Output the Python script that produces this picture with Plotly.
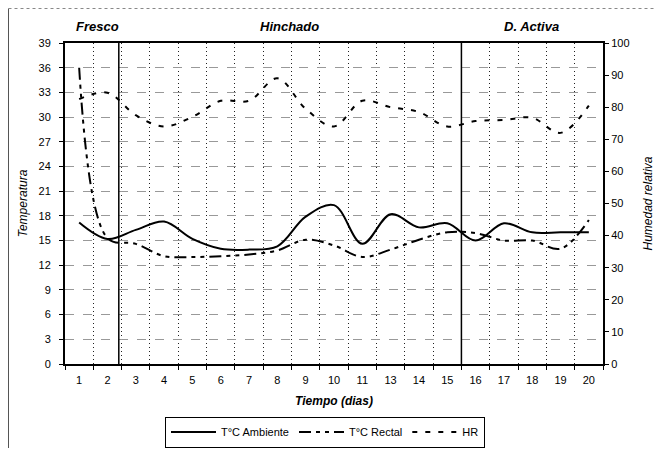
import plotly.graph_objects as go

dias = ["1", "2", "3", "4", "5", "6", "7", "8", "9", "10", "11",
        "13", "14", "15", "16", "17", "18", "19", "20"]
t_ambiente = [17.2, 15.2, 16.3, 17.3, 15.2, 14.0, 13.9, 14.3, 17.9, 19.3, 14.6,
              18.2, 16.6, 17.1, 15.0, 17.1, 16.0, 16.0, 16.0]
t_rectal = [36.0, 15.3, 14.6, 13.1, 13.0, 13.1, 13.3, 13.8, 15.1, 14.4, 13.0,
            13.9, 15.1, 16.0, 15.9, 15.0, 15.0, 14.0, 17.5]
hr = [82.5, 84.5, 77.5, 74.0, 77.0, 82.0, 82.0, 89.0, 79.5, 74.0, 82.0,
      80.0, 78.5, 74.0, 75.7, 76.0, 76.7, 72.0, 80.5]

left_ticks = list(range(0, 40, 3))
right_ticks = list(range(0, 101, 10))
phases = ["Fresco", "Hinchado", "D. Activa"]

FONT = "Liberation Sans, Arial, sans-serif"

# page body has an 8px margin: plot area targeted at x 65..603, y 43..364 (window px)
OFF = 8
PL, PR, PT, PB = 65, 603, 43, 364
W, H = 656, 443
PW, PH = PR - PL, PB - PT


def px_x(p):
    return (p - PL) / PW


def px_y(p):
    return (PB - p) / PH


fig = go.Figure()
fig.add_trace(go.Scatter(x=dias, y=t_ambiente, name="T°C Ambiente", mode="lines",
                         line=dict(color="black", width=2, shape="spline")))
fig.add_trace(go.Scatter(x=dias, y=t_rectal, name="T°C Rectal", mode="lines",
                         line=dict(color="black", width=2, shape="spline",
                                   dash="12px,5px,4px,5px,4px,5px")))
fig.add_trace(go.Scatter(x=dias, y=hr, name="HR", mode="lines", yaxis="y2",
                         line=dict(color="black", width=2, shape="spline",
                                   dash="5px,8px")))

# phase separators
for xv in [1.4, 13.5]:
    fig.add_shape(type="line", xref="x", yref="paper", x0=xv, x1=xv, y0=0, y1=1,
                  line=dict(color="black", width=1.5))

# scan frame (left and top edges)
fig.add_shape(type="line", xref="paper", yref="paper",
              x0=px_x(8.5), x1=px_x(8.5), y0=px_y(448), y1=px_y(8.5),
              line=dict(color="#555", width=1))
fig.add_shape(type="line", xref="paper", yref="paper",
              x0=px_x(8.5), x1=px_x(662), y0=px_y(8.5), y1=px_y(8.5),
              line=dict(color="#888", width=1, dash="dot"))

for name, px in zip(phases, [97, 289, 531]):
    fig.add_annotation(text=f"<b><i>{name}</i></b>", xref="paper", yref="paper",
                       x=px_x(px), y=px_y(26), xanchor="center", yanchor="middle",
                       showarrow=False, font=dict(size=13, family=FONT, color="black"))

fig.update_layout(
    width=W, height=H,
    margin=dict(l=PL - OFF, r=OFF + W - PR, t=PT - OFF, b=OFF + H - PB, autoexpand=False),
    paper_bgcolor="white", plot_bgcolor="white",
    font=dict(family=FONT, size=11, color="black"),
    showlegend=True,
    legend=dict(orientation="h", xref="container", yref="container",
                x=(325 - OFF) / W, xanchor="center", y=(OFF + H - 432) / H,
                yanchor="middle", bordercolor="black", borderwidth=1,
                font=dict(size=11), traceorder="normal", itemwidth=45),
    xaxis=dict(type="category", tickson="boundaries", range=[-0.5, 18.5],
               showgrid=True, gridcolor="#222", griddash="1px,3px", gridwidth=1,
               showline=True, linecolor="black", linewidth=1.5, mirror=True,
               ticks="outside", ticklen=4, tickcolor="black", ticklabelstandoff=5,
               title=dict(text="<b><i>Tiempo (dias)</i></b>", font=dict(size=12), standoff=12)),
    yaxis=dict(range=[0, 39], tickvals=left_ticks, showgrid=True, gridcolor="#999",
               griddash="dash", gridwidth=1, zeroline=False,
               showline=True, linecolor="black", linewidth=2,
               ticks="outside", ticklen=4, tickcolor="black", ticklabelstandoff=6,
               title=dict(text="<i>Temperatura</i>", font=dict(size=12), standoff=8)),
    yaxis2=dict(range=[0, 100], tickvals=right_ticks, overlaying="y", side="right",
                showgrid=False, zeroline=False, showline=True, linecolor="black",
                linewidth=2, ticks="outside", ticklen=4, tickcolor="black",
                title=dict(text="<i>Humedad relativa</i>", font=dict(size=12), standoff=15)),
)

fig.write_html("out.html")
